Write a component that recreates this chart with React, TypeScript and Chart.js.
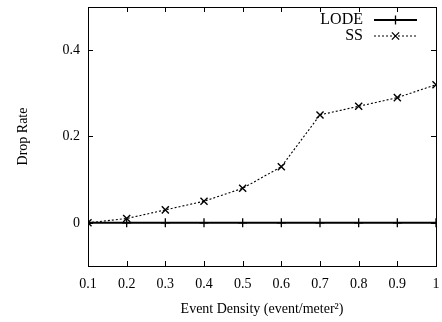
import React, { useEffect, useRef } from "react";
import { Chart, registerables } from "chart.js";

Chart.register(...registerables);

const densities = [0.1, 0.2, 0.3, 0.4, 0.5, 0.6, 0.7, 0.8, 0.9, 1.0];
const lodeValues = [0, 0, 0, 0, 0, 0, 0, 0, 0, 0];
const ssValues = [0, 0.01, 0.03, 0.05, 0.08, 0.13, 0.25, 0.27, 0.29, 0.32];
const xTicks = [0.1, 0.2, 0.3, 0.4, 0.5, 0.6, 0.7, 0.8, 0.9, 1];
const yTicks = [0, 0.2, 0.4];
const seriesLabels = ["LODE", "SS"];

const FONT = "'Liberation Serif', 'DejaVu Serif', serif";

const frameAndTicks = {
  id: "frameAndTicks",
  afterDraw(chart: any) {
    const { ctx, chartArea: a, scales } = chart;
    const len = 5;
    ctx.save();
    ctx.strokeStyle = "#000";
    ctx.lineWidth = 1;
    ctx.beginPath();
    for (const t of scales.x.ticks) {
      const px = Math.round(scales.x.getPixelForValue(t.value)) + 0.5;
      ctx.moveTo(px, a.bottom);
      ctx.lineTo(px, a.bottom - len);
      ctx.moveTo(px, a.top);
      ctx.lineTo(px, a.top + len);
    }
    for (const t of scales.y.ticks) {
      const py = Math.round(scales.y.getPixelForValue(t.value)) + 0.5;
      ctx.moveTo(a.left, py);
      ctx.lineTo(a.left + len, py);
      ctx.moveTo(a.right, py);
      ctx.lineTo(a.right - len, py);
    }
    ctx.stroke();
    ctx.strokeRect(Math.round(a.left) + 0.5, Math.round(a.top) + 0.5, Math.round(a.right - a.left), Math.round(a.bottom - a.top));

    // legend
    ctx.font = `16px ${FONT}`;
    ctx.fillStyle = "#000";
    ctx.textAlign = "right";
    ctx.textBaseline = "middle";
    const textRight = a.right - 73;
    const lineL = a.right - 62;
    const lineR = a.right - 19;
    chart.data.datasets.forEach((ds: any, i: number) => {
      const y = a.top + 13 + i * 16;
      ctx.fillText(ds.label, textRight, y);
      ctx.beginPath();
      ctx.lineWidth = ds.borderWidth;
      ctx.setLineDash(ds.borderDash || []);
      ctx.moveTo(lineL, y);
      ctx.lineTo(lineR, y);
      ctx.stroke();
      ctx.setLineDash([]);
      ctx.lineWidth = 1.3;
      const cx = (lineL + lineR) / 2;
      const r = 4.5;
      ctx.beginPath();
      if (ds.pointStyle === "cross") {
        ctx.moveTo(cx - r, y);
        ctx.lineTo(cx + r, y);
        ctx.moveTo(cx, y - r);
        ctx.lineTo(cx, y + r);
      } else {
        const d = r * 0.8;
        ctx.moveTo(cx - d, y - d);
        ctx.lineTo(cx + d, y + d);
        ctx.moveTo(cx - d, y + d);
        ctx.lineTo(cx + d, y - d);
      }
      ctx.stroke();
    });
    ctx.restore();
  },
};

export default function App() {
  const ref = useRef<HTMLCanvasElement>(null);
  useEffect(() => {
    if (!ref.current) return;
    const chart = new Chart(ref.current, {
      type: "line",
      data: {
        datasets: [
          {
            label: seriesLabels[0],
            data: densities.map((x, i) => ({ x, y: lodeValues[i] })),
            borderColor: "#000",
            backgroundColor: "#000",
            borderWidth: 2,
            pointStyle: "cross",
            pointRadius: 4.5,
            pointBorderWidth: 1.3,
            pointBorderColor: "#000",
            fill: false,
          },
          {
            label: seriesLabels[1],
            data: densities.map((x, i) => ({ x, y: ssValues[i] })),
            borderColor: "#000",
            backgroundColor: "#000",
            borderWidth: 1.1,
            borderDash: [2, 2],
            pointStyle: "crossRot",
            pointRadius: 5,
            pointBorderWidth: 1.4,
            pointBorderColor: "#000",
            fill: false,
          },
        ],
      },
      options: {
        animation: false,
        responsive: false,
        maintainAspectRatio: false,
        layout: { autoPadding: false, padding: { top: 7, right: 6, left: 0, bottom: 0 } },
        plugins: { legend: { display: false }, tooltip: { enabled: false } },
        scales: {
          x: {
            type: "linear",
            min: 0.1,
            max: 1,
            grid: { display: false, drawTicks: false },
            border: { display: false },
            afterBuildTicks: (s: any) => {
              s.ticks = xTicks.map((v) => ({ value: v }));
            },
            afterFit: (s: any) => {
              s.height = 56;
              s.paddingLeft = 0;
              s.paddingRight = 0;
            },
            ticks: {
              color: "#000",
              font: { family: FONT, size: 14 },
              padding: 10,
              maxRotation: 0,
              autoSkip: false,
              callback: (v: any) => String(Math.round(Number(v) * 10) / 10),
            },
            title: {
              display: true,
              text: "Event Density (event/meter²)",
              color: "#000",
              font: { family: FONT, size: 14 },
              padding: { top: 2, bottom: 4 },
            },
          },
          y: {
            type: "linear",
            min: -0.1,
            max: 0.5,
            grid: { display: false, drawTicks: false },
            border: { display: false },
            afterBuildTicks: (s: any) => {
              s.ticks = yTicks.map((v) => ({ value: v }));
            },
            afterFit: (s: any) => {
              s.width = 88;
              s.paddingTop = 0;
              s.paddingBottom = 0;
            },
            ticks: {
              color: "#000",
              font: { family: FONT, size: 14 },
              padding: 8,
              callback: (v: any) => String(Math.round(Number(v) * 10) / 10),
            },
            title: {
              display: true,
              text: "Drop Rate",
              color: "#000",
              font: { family: FONT, size: 14 },
              padding: { top: 15, bottom: 0 },
            },
          },
        },
      },
      plugins: [frameAndTicks],
    });
    return () => chart.destroy();
  }, []);
  return (
    <div style={{ position: "fixed", left: 0, top: 0, width: 442, height: 322, background: "#fff" }}>
      <canvas ref={ref} width={442} height={322} style={{ width: 442, height: 322 }} />
    </div>
  );
}
